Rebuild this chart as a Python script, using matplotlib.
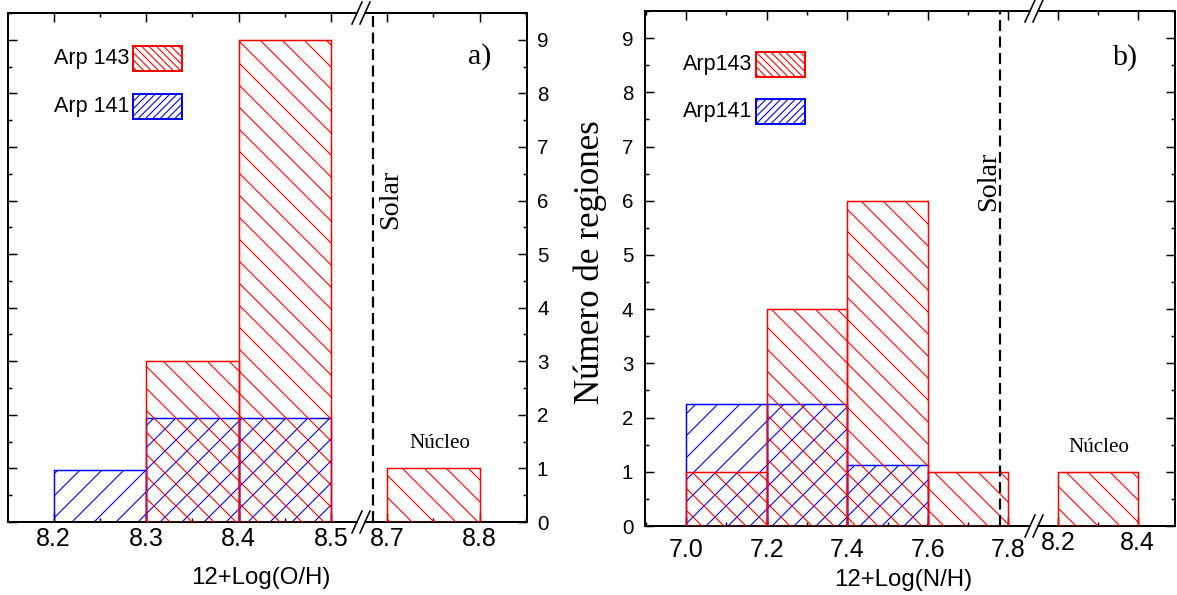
import matplotlib
matplotlib.use("Agg")
import matplotlib.pyplot as plt
from matplotlib.patches import Rectangle
from matplotlib.lines import Line2D
from matplotlib.ticker import MultipleLocator

#--------------------- data ---------------------
# panel a) 12+Log(O/H)
oh_left_143 = [8.3, 8.4, 8.7]
oh_count_143 = [3, 9, 1]
oh_left_141 = [8.2, 8.3, 8.4]
oh_count_141 = [0.97, 1.95, 1.95]
oh_width = 0.1
oh_solar = 8.685
oh_ticks = [8.2, 8.3, 8.4, 8.5, 8.7, 8.8]

# panel b) 12+Log(N/H)
nh_left_143 = [7.0, 7.2, 7.4, 7.6, 8.2]
nh_count_143 = [1, 4, 6, 1, 1]
nh_left_141 = [7.0, 7.2, 7.4]
nh_count_141 = [2.25, 2.25, 1.12]
nh_width = 0.2
nh_solar = 7.78
nh_ticks = [7.0, 7.2, 7.4, 7.6, 7.8, 8.2, 8.4]

y_ticks = list(range(10))

#--------------------- figure setup ---------------------
DPI = 66  # hatch spacing follows dpi, 66 gives the ~11px spacing of the original
W, H = 1177, 595
PT = 72.0 / DPI  # points per pixel
RED = "#ff0000"
BLUE = "#0000ff"
SANS = "Liberation Sans"
SERIF = "Liberation Serif"

plt.rcParams["hatch.linewidth"] = 1.1 * PT
fig = plt.figure(figsize=(W / DPI, H / DPI), dpi=DPI)


def add_ax(x0, x1, y0, y1):
    # pixel box -> figure fraction
    return fig.add_axes([x0 / W, 1 - y1 / H, (x1 - x0) / W, (y1 - y0) / H])


def style_ax(ax, xlim, minor, side):
    ax.set_xlim(*xlim)
    ax.set_ylim(0, 9.5)
    ax.xaxis.set_minor_locator(MultipleLocator(minor))
    ax.yaxis.set_major_locator(MultipleLocator(1))
    ax.yaxis.set_minor_locator(MultipleLocator(0.5))
    for s in ax.spines.values():
        s.set_linewidth(2 * PT)
    ax.tick_params(which="both", direction="in", top=True, bottom=True,
                   left=(side == "left"), right=(side == "right"),
                   labelleft=False, labelright=False, width=1.5 * PT)
    ax.tick_params(which="major", length=9 * PT)
    ax.tick_params(which="minor", length=4.5 * PT)
    ax.tick_params(axis="x", which="major", labelsize=25 * PT, pad=5 * PT)
    ax.tick_params(axis="y", labelsize=20.5 * PT, pad=10 * PT)
    if side == "left":
        ax.spines["right"].set_visible(False)
    else:
        ax.spines["left"].set_visible(False)


def draw_hist(ax, left143, count143, left141, count141, width, solar, ticks):
    ax.bar(left141, count141, width=width, align="edge", facecolor="none",
           edgecolor=BLUE, hatch="/", linewidth=1.5 * PT, zorder=2)
    ax.bar(left143, count143, width=width, align="edge", facecolor="none",
           edgecolor=RED, hatch="\\", linewidth=1.5 * PT, zorder=3)
    ax.axvline(solar, color="k", linewidth=2.2 * PT, linestyle=(0, (5, 2.5)), zorder=4)
    lo, hi = ax.get_xlim()
    ax.set_xticks([t for t in ticks if lo <= t <= hi])
    ax.set_xticklabels(["%.1f" % t for t in ticks if lo <= t <= hi])


def break_marks(xa, xb, ytop, ybot):
    for yc in (ytop, ybot):
        for xc in (xa, xb):
            fig.add_artist(Line2D([(xc - 5) / W, (xc + 5) / W],
                                  [1 - (yc + 11) / H, 1 - (yc - 11) / H],
                                  color="k", linewidth=1.6 * PT))


def legend_box(x_text, x0, y0, label, color, hatch):
    fig.text(x_text / W, 1 - (y0 + 12.5) / H, label, ha="right", va="center",
             fontsize=21.5 * PT, family=SANS)
    fig.add_artist(Rectangle((x0 / W, 1 - (y0 + 25) / H), 49 / W, 25 / H,
                             transform=fig.transFigure, facecolor="white",
                             edgecolor=color, hatch=hatch, linewidth=2 * PT))


def set_fonts(ax):
    for lab in ax.get_xticklabels() + ax.get_yticklabels():
        lab.set_fontfamily(SANS)


#--------------------- panel a) ---------------------
ax_a1 = add_ax(7.5, 357, 13, 522)
ax_a2 = add_ax(365, 527, 13, 522)
for ax, xlim, side in ((ax_a1, (8.1503, 8.5279), "left"), (ax_a2, (8.6759, 8.8512), "right")):
    style_ax(ax, xlim, 0.05, side)
    draw_hist(ax, oh_left_143, oh_count_143, oh_left_141, oh_count_141, oh_width, oh_solar, oh_ticks)
ax_a2.set_yticks(y_ticks)
ax_a2.tick_params(labelright=True)
set_fonts(ax_a1)
set_fonts(ax_a2)
break_marks(357, 365, 13, 522)

fig.text(260.5 / W, 1 - 584 / H, "12+Log(O/H)", ha="center", va="baseline",
         fontsize=24 * PT, family=SANS)
fig.text(468 / W, 1 - 57 / H, "a)", ha="left", va="center", fontsize=30 * PT, family=SERIF)
fig.text(391 / W, 1 - 199 / H, "Solar", ha="center", va="center", rotation=90,
         fontsize=28 * PT, family=SERIF)
fig.text(440 / W, 1 - 443 / H, "Núcleo", ha="center", va="center", fontsize=21 * PT, family=SERIF)
legend_box(129, 133, 46, "Arp 143", RED, "\\\\\\")
legend_box(129, 133, 94, "Arp 141", BLUE, "///")

#--------------------- panel b) ---------------------
ax_b1 = add_ax(645.3, 1030, 11, 526)
ax_b2 = add_ax(1038, 1175, 11, 526)
for ax, xlim, side in ((ax_b1, (6.899, 7.8536), "left"), (ax_b2, (8.1497, 8.4943), "right")):
    style_ax(ax, xlim, 0.1, side)
    draw_hist(ax, nh_left_143, nh_count_143, nh_left_141, nh_count_141, nh_width, nh_solar, nh_ticks)
ax_b1.set_yticks(y_ticks)
ax_b1.tick_params(labelleft=True, pad=12 * PT)
set_fonts(ax_b1)
set_fonts(ax_b2)
break_marks(1030, 1038, 11, 526)

fig.text(903 / W, 1 - 586 / H, "12+Log(N/H)", ha="center", va="baseline",
         fontsize=24 * PT, family=SANS)
fig.text(590 / W, 1 - 262 / H, "Número de regiones", ha="center", va="center",
         rotation=90, fontsize=35 * PT, family=SERIF)
fig.text(1112 / W, 1 - 58 / H, "b)", ha="left", va="center", fontsize=30 * PT, family=SERIF)
fig.text(989 / W, 1 - 181 / H, "Solar", ha="center", va="center", rotation=90,
         fontsize=28 * PT, family=SERIF)
fig.text(1099 / W, 1 - 448 / H, "Núcleo", ha="center", va="center", fontsize=21 * PT, family=SERIF)
legend_box(752, 756, 52, "Arp143", RED, "\\\\\\")
legend_box(752, 756, 99, "Arp141", BLUE, "///")

fig.savefig("out.png", dpi=DPI)
